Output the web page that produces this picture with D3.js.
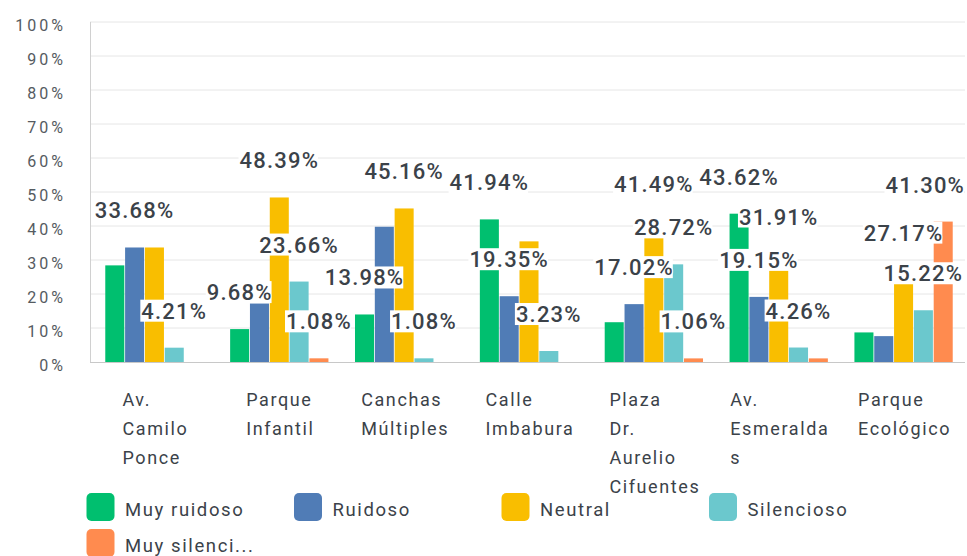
<!DOCTYPE html>
<html>
<head>
<meta charset="utf-8">
<script src="https://cdn.jsdelivr.net/npm/d3@7"></script>
<style>
  body { margin: 0; background: #fff; }
  svg { display: block; font-family: Roboto, "Noto Sans", sans-serif; }
</style>
</head>
<body>
<div id="chart"></div>
<script>
const categories = ["Av. Camilo Ponce", "Parque Infantil", "Canchas Múltiples", "Calle Imbabura",
    "Plaza Dr. Aurelio Cifuentes", "Av. Esmeraldas", "Parque Ecológico"];
// tick text as it wraps under each group
const categoryLines = [["Av.", "Camilo", "Ponce"], ["Parque", "Infantil"], ["Canchas", "Múltiples"],
    ["Calle", "Imbabura"], ["Plaza", "Dr.", "Aurelio", "Cifuentes"], ["Av.", "Esmeralda", "s"],
    ["Parque", "Ecológico"]];
const seriesNames = ["Muy ruidoso", "Ruidoso", "Neutral", "Silencioso", "Muy silencioso"];
const legendLabels = ["Muy ruidoso", "Ruidoso", "Neutral", "Silencioso", "Muy silenci..."];
const seriesColors = ["#00bf6f", "#507cb6", "#f9be00", "#6bc8cd", "#ff8b4f"];

const muyRuidoso = [28.42, 9.68, 13.98, 41.94, 11.70, 43.62, 8.70];
const ruidoso = [33.68, 17.20, 39.78, 19.35, 17.02, 19.15, 7.61];
const neutral = [33.68, 48.39, 45.16, 35.48, 41.49, 31.91, 27.17];
const silencioso = [4.21, 23.66, 1.08, 3.23, 28.72, 4.26, 15.22];
const muySilencioso = [0, 1.08, 0, 0, 1.06, 1.06, 41.30];

const yTicks = [0, 10, 20, 30, 40, 50, 60, 70, 80, 90, 100];

const seriesValues = [muyRuidoso, ruidoso, neutral, silencioso, muySilencioso];

const width = 967, height = 556;
const svg = d3.select("#chart").append("svg")
    .attr("width", width)
    .attr("height", height);

const y = d3.scaleLinear().domain([0, 100]).range([362, 22]);
const x0 = d3.scaleBand().domain(categories).range([92, 966]).paddingInner(0.2).paddingOuter(0.1);
const x1 = d3.scaleBand().domain(seriesNames).range([0, x0.bandwidth()]).padding(0.04);

// grid
svg.append("g")
    .selectAll("line")
    .data(yTicks.slice(1))
    .enter()
    .append("line")
    .attr("x1", 90).attr("x2", 965)
    .attr("y1", d => y(d)).attr("y2", d => y(d))
    .attr("stroke", "#e6e6e6")
    .attr("stroke-width", 1);

svg.append("line")
    .attr("x1", 90.5).attr("x2", 90.5)
    .attr("y1", y(100)).attr("y2", y(0))
    .attr("stroke", "#d0d0d0");

// y axis labels
const yAxis = d3.axisLeft(y).tickValues(yTicks).tickFormat(d => d + "%").tickSize(0).tickPadding(0);
const yg = svg.append("g").attr("transform", "translate(66,3)").call(yAxis);
yg.select(".domain").remove();
yg.selectAll("text")
    .attr("font-family", "Roboto, sans-serif")
    .attr("font-size", 16)
    .attr("letter-spacing", "3px")
    .attr("fill", "#555b61");

// bars
const rows = [];
categories.forEach((c, ci) => {
    seriesNames.forEach((s, si) => {
        rows.push({ cat: c, ci: ci, series: s, si: si, value: seriesValues[si][ci] });
    });
});
const nonZero = rows.filter(d => d.value > 0);

svg.append("g")
    .selectAll("rect")
    .data(nonZero)
    .enter()
    .append("rect")
    .attr("x", d => x0(d.cat) + x1(d.series))
    .attr("y", d => y(d.value))
    .attr("width", x1.bandwidth())
    .attr("height", d => y(0) - y(d.value))
    .attr("fill", d => seriesColors[d.si]);

svg.append("line")
    .attr("x1", 90).attr("x2", 965)
    .attr("y1", y(0) + 0.5).attr("y2", y(0) + 0.5)
    .attr("stroke", "#c8c8c8");

// value labels, larger values win when two collide in a group
const bgG = svg.append("g");
const labelG = svg.append("g");
const labels = labelG.selectAll("text")
    .data(nonZero)
    .enter()
    .append("text")
    .attr("x", d => x0(d.cat) + x1(d.series) + x1.bandwidth() / 2)
    .attr("y", d => y(d.value) - 29)
    .attr("text-anchor", "middle")
    .attr("font-family", "Roboto, sans-serif")
    .attr("font-weight", 500)
    .attr("font-size", 22)
    .attr("letter-spacing", "1.2px")
    .attr("fill", "#3b4249")
    .attr("stroke", "#fff")
    .attr("stroke-width", 2)
    .attr("stroke-linejoin", "round")
    .attr("paint-order", "stroke")
    .text(d => d.value.toFixed(2) + "%");

labels.each(function (d) {
    const b = this.getBBox();
    if (b.x + b.width > 965) {
        d3.select(this).attr("x", +d3.select(this).attr("x") - (b.x + b.width - 965));
    }
    d.box = this.getBBox();
});

const pad = 1;
const placed = {};
nonZero.slice()
    .sort((a, b) => b.value - a.value || a.si - b.si)
    .forEach(d => {
        const list = placed[d.ci] || (placed[d.ci] = []);
        const hit = list.some(o =>
            d.box.x < o.box.x + o.box.width && o.box.x < d.box.x + d.box.width &&
            d.box.y - pad < o.box.y + o.box.height + pad && o.box.y - pad < d.box.y + d.box.height + pad);
        d.show = !hit;
        if (!hit) list.push(d);
    });
labels.attr("display", d => (d.show ? null : "none"));

// white plates behind the shown labels
bgG.selectAll("rect")
    .data(nonZero.filter(d => d.show))
    .enter()
    .append("rect")
    .attr("x", d => d.box.x - 1)
    .attr("width", d => d.box.width)
    .attr("y", d => y(d.value) - 29 - 19)
    .attr("height", 22)
    .attr("fill", "#fff");

// category labels
const catG = svg.append("g")
    .selectAll("g")
    .data(categories)
    .enter()
    .append("g")
    .attr("transform", d => `translate(${x0(d) + x0.bandwidth() / 2},0)`);

catG.each(function (d, i) {
    const g = d3.select(this);
    const t = g.append("text")
        .attr("font-family", "Roboto, sans-serif")
        .attr("font-size", 18)
        .attr("letter-spacing", "1.6px")
        .attr("fill", "#3b4249");
    categoryLines[i].forEach((line, li) => {
        t.append("tspan")
            .attr("x", 0)
            .attr("y", 406 + li * 29)
            .text(line);
    });
    const w = t.node().getBBox().width;
    t.attr("transform", `translate(${-w / 2 + 1},0)`);
});

// legend
const legend = svg.append("g")
    .selectAll("g")
    .data(legendLabels)
    .enter()
    .append("g")
    .attr("transform", (d, i) => `translate(${86.5 + (i % 4) * 207.5},${493 + Math.floor(i / 4) * 36})`);

legend.append("rect")
    .attr("width", 28)
    .attr("height", 28)
    .attr("rx", 5)
    .attr("fill", (d, i) => seriesColors[i]);

legend.append("text")
    .attr("x", 38.5)
    .attr("y", 23)
    .attr("font-family", "Roboto, sans-serif")
    .attr("font-size", 18.5)
    .attr("letter-spacing", "1.6px")
    .attr("fill", "#3b4249")
    .text(d => d);
</script>
</body>
</html>
